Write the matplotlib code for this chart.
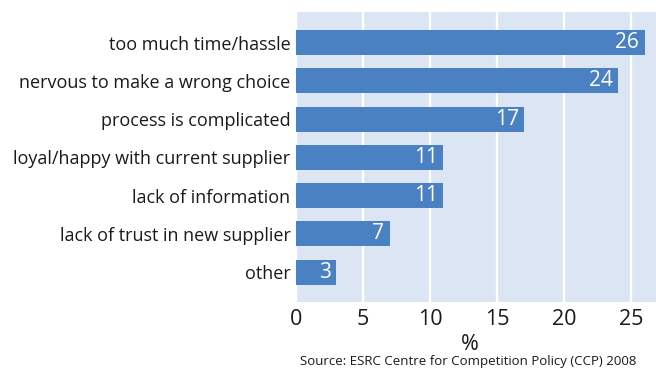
import matplotlib
matplotlib.use('Agg')
import matplotlib.pyplot as plt

reasons = ['too much time/hassle', 'nervous to make a wrong choice',
           'process is complicated', 'loyal/happy with current supplier',
           'lack of information', 'lack of trust in new supplier', 'other']
percent = [26, 24, 17, 11, 11, 7, 3]
xticks = [0, 5, 10, 15, 20, 25]

plt.rcParams['font.family'] = ['Open Sans', 'DejaVu Sans']

fig = plt.figure(figsize=(6.56, 3.69), dpi=100)
ax = fig.add_axes([296 / 656, 1 - 302 / 369, 360 / 656, 290 / 369])
ax.set_facecolor('#dbe5f3')

pos = list(range(len(reasons)))
ax.barh(pos, percent, height=0.65, color='#4a81c2', zorder=3)
for y, v in zip(pos, percent):
    ax.text(v - 0.4, y, str(v), color='white', ha='right', va='center',
            fontsize=15, zorder=4)

ax.set_ylim(len(reasons) - 1 + 0.78, -0.8)
ax.set_xlim(0, 26.85)
ax.set_yticks(pos)
ax.set_yticklabels(reasons, fontsize=13, color='#1a1a1a')
ax.set_xticks(xticks)
ax.set_xticklabels([str(t) for t in xticks], fontsize=15.5, color='#1a1a1a')
ax.tick_params(length=0, pad=4)
ax.tick_params(axis='x', pad=5)
ax.xaxis.grid(True, color='white', linewidth=1.7, zorder=1)
for s in ax.spines.values():
    s.set_visible(False)

fig.text(470 / 656, 1 - 344 / 369, '%', ha='center', va='center',
         fontsize=15.5, color='#1a1a1a')
fig.text(468 / 656, 1 - 362 / 369,
         'Source: ESRC Centre for Competition Policy (CCP) 2008',
         ha='center', va='center', fontsize=9.5, color='#1a1a1a')

fig.savefig('out.png', dpi=100)
